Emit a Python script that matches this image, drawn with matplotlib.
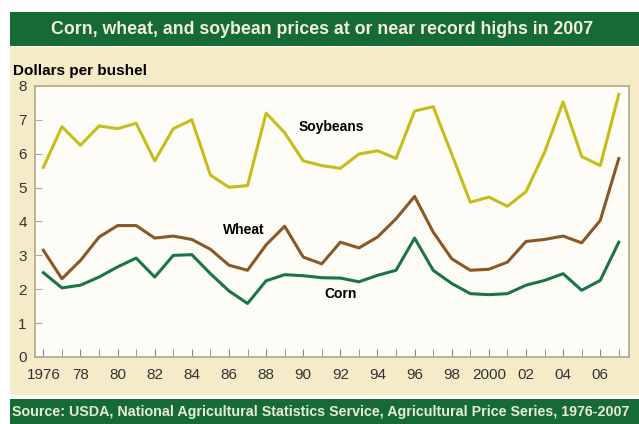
import matplotlib.pyplot as plt
from matplotlib.patches import Rectangle

years = list(range(1976, 2008))
soybeans = [5.60, 6.80, 6.25, 6.82, 6.74, 6.90, 5.79, 6.74, 7.00, 5.37,
            5.01, 5.06, 7.20, 6.62, 5.79, 5.65, 5.57, 5.99, 6.09, 5.86,
            7.26, 7.39, 5.99, 4.57, 4.72, 4.45, 4.88, 6.04, 7.53, 5.92,
            5.65, 7.75]
wheat = [3.15, 2.31, 2.85, 3.54, 3.88, 3.88, 3.51, 3.57, 3.47, 3.18,
         2.71, 2.56, 3.31, 3.86, 2.95, 2.75, 3.39, 3.22, 3.54, 4.08,
         4.74, 3.69, 2.90, 2.56, 2.59, 2.80, 3.41, 3.47, 3.57, 3.37,
         4.03, 5.86]
corn = [2.49, 2.04, 2.12, 2.36, 2.66, 2.92, 2.36, 3.00, 3.02, 2.46,
        1.95, 1.58, 2.25, 2.43, 2.40, 2.34, 2.33, 2.22, 2.41, 2.56,
        3.51, 2.56, 2.17, 1.87, 1.84, 1.87, 2.12, 2.26, 2.46, 1.97,
        2.26, 3.39]
xtick_labels = ["1976", "78", "80", "82", "84", "86", "88", "90", "92", "94",
                "96", "98", "2000", "02", "04", "06"]

plt.rcParams['font.family'] = ['Liberation Sans', 'DejaVu Sans']

fig = plt.figure(figsize=(6.39, 4.24), dpi=100)
fig.patch.set_facecolor("white")

# beige panel and green bars behind the axes
fig.patches.append(Rectangle((10/639, 1-395/424), 629/639, 348/424,
                             transform=fig.transFigure, facecolor="#f5ebc9",
                             edgecolor="none", zorder=-2))
fig.patches.append(Rectangle((10/639, 1-46/424), 629/639, 34/424,
                             transform=fig.transFigure, facecolor="#156b33",
                             edgecolor="none", zorder=-1))
fig.patches.append(Rectangle((10/639, 0), 629/639, 25/424,
                             transform=fig.transFigure, facecolor="#156b33",
                             edgecolor="none", zorder=-1))

fig.text(322/639, 1-29/424, "Corn, wheat, and soybean prices at or near record highs in 2007",
         color="#f3f0dc", fontsize=12.8, fontweight="bold", ha="center", va="center")
fig.text(12/639, 1-412/424,
         "Source: USDA, National Agricultural Statistics Service, Agricultural Price Series, 1976-2007",
         color="#e8ecd8", fontsize=10.3, fontweight="bold", ha="left", va="center")
fig.text(13/639, 1-71/424, "Dollars per bushel", fontsize=11, fontweight="bold",
         color="black", ha="left", va="center")

ax = fig.add_axes([35/639, 1-357/424, 594/639, 271/424])
ax.set_zorder(1)
ax.set_facecolor("#fdfcf7")
ax.plot(years, soybeans, color="#c6bd1a", lw=2.2)
ax.plot(years, wheat, color="#8a5824", lw=2.2)
ax.plot(years, corn, color="#1c7446", lw=2.2)

ax.set_xlim(1975.55, 2007.55)
ax.set_ylim(0, 8)
ax.set_yticks(range(0, 9))
ax.set_xticks(years, minor=True)
ax.set_xticks(range(1976, 2007, 2))
ax.set_xticklabels(xtick_labels)
ax.tick_params(axis="x", which="both", direction="in", length=6, color="#888888",
               labelsize=11, labelcolor="#333333", pad=8)
ax.tick_params(axis="y", direction="in", length=5, color="#aaaaaa",
               labelsize=11, labelcolor="#333333", pad=6)
for s in ax.spines.values():
    s.set_color("#b8ae8e")
    s.set_linewidth(1.3)

ax.text(1991.5, 6.78, "Soybeans", fontsize=10, fontweight="bold", ha="center", va="center")
ax.text(1986.8, 3.74, "Wheat", fontsize=10, fontweight="bold", ha="center", va="center")
ax.text(1992.0, 1.85, "Corn", fontsize=10, fontweight="bold", ha="center", va="center")

fig.savefig("out.png", dpi=100)
